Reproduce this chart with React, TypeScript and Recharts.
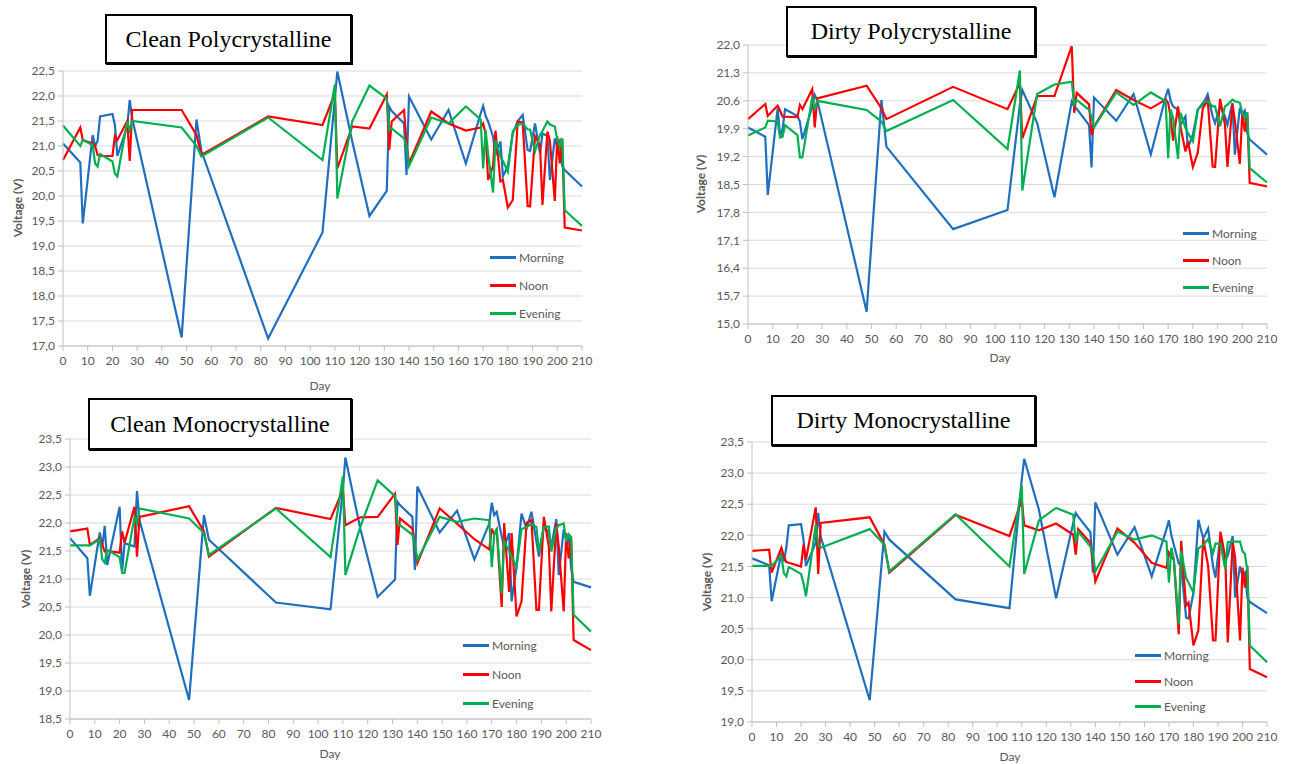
import React from 'react';
import { LineChart, Line, XAxis, YAxis, CartesianGrid } from 'recharts';

// measurement days shared by all series
const DAYS = [
  0, 7, 8, 12, 13, 14, 15, 20, 21, 22,
  26, 27, 28, 48, 54, 56, 83, 105, 110, 111,
  117, 124, 131, 132, 133, 138, 139, 140, 149, 156,
  163, 169, 170, 171, 172, 174, 175, 177, 178, 180,
  182, 184, 186, 188, 189, 191, 193, 194, 196, 197,
  199, 200, 201, 202, 203, 210,
];

const X_TICKS = [0, 10, 20, 30, 40, 50, 60, 70, 80, 90, 100, 110, 120, 130, 140, 150, 160, 170, 180, 190, 200, 210];

// Clean Polycrystalline
const cleanPolyMorning = [
  21.05, 20.67, 19.45, 21.22, 21.0, 21.1, 21.59, 21.64, 21.42, 20.8,
  21.4, 21.92, 21.55, 17.17, 21.53, 20.9, 17.15, 19.27, 21.95, 22.49,
  21.1, 19.6, 20.1, 21.79, 21.7, 21.45, 20.42, 21.99, 21.13, 21.72,
  20.65, 21.65, 21.8, 21.6, 21.49, 21.19, 20.82, 21.09, 20.39, 20.6,
  21.25, 21.5, 21.62, 20.92, 20.9, 21.45, 20.85, 21.25, 21.2, 20.32,
  21.15, 21.0, 21.1, 20.6, 20.52, 20.19,
];
const cleanPolyNoon = [
  20.72, 21.37, 21.12, 21.05, 21.0, 20.82, 20.8, 20.8, 21.2, 21.12,
  21.5, 20.7, 21.72, 21.72, 21.22, 20.82, 21.59, 21.42, 22.05, 20.55,
  21.39, 21.35, 22.03, 20.92, 21.49, 21.72, 21.05, 20.65, 21.69, 21.45,
  21.31, 21.37, 21.45, 21.25, 20.32, 20.6, 21.31, 20.29, 20.32, 19.77,
  19.92, 21.49, 21.47, 19.8, 19.79, 21.19, 21.02, 19.82, 21.29, 21.1,
  19.9, 21.19, 20.65, 21.15, 19.37, 19.31,
];
const cleanPolyEvening = [
  21.41, 21.0, 21.12, 21.02, 20.65, 20.59, 20.84, 20.69, 20.45, 20.39,
  21.49, 21.32, 21.5, 21.37, 21.0, 20.79, 21.57, 20.72, 22.23, 19.95,
  21.49, 22.21, 21.95, 21.32, 21.35, 21.15, 21.0, 20.6, 21.57, 21.45,
  21.79, 21.53, 20.55, 21.32, 20.85, 20.07, 21.12, 20.79, 20.7, 20.49,
  21.29, 21.42, 21.45, 21.33, 21.33, 20.89, 21.22, 21.3, 21.49, 21.43,
  21.39, 21.12, 20.99, 21.15, 19.72, 19.4,
];
const cleanPolyTicks = [17, 17.5, 18, 18.5, 19, 19.5, 20, 20.5, 21, 21.5, 22, 22.5];

// Dirty Polycrystalline
const dirtyPolyMorning = [
  19.93, 19.7, 18.24, 20.41, 19.7, 19.9, 20.39, 20.22, 20.08, 19.64,
  20.45, 20.75, 20.62, 15.31, 20.62, 19.45, 17.38, 17.86, 20.5, 20.87,
  20.04, 18.18, 20.58, 20.45, 20.4, 19.99, 18.93, 20.68, 20.1, 20.77,
  19.26, 20.7, 20.9, 20.6, 20.46, 20.38, 20.0, 20.21, 19.42, 19.75,
  20.38, 20.5, 20.76, 20.21, 20.04, 20.46, 20.21, 20.0, 20.55, 19.25,
  20.42, 20.25, 20.35, 19.8, 19.63, 19.25,
];
const dirtyPolyNoon = [
  20.14, 20.52, 20.22, 20.48, 20.35, 20.2, 20.2, 20.19, 20.5, 20.39,
  20.89, 19.93, 20.66, 20.98, 20.41, 20.14, 20.95, 20.39, 21.04, 19.66,
  20.72, 20.72, 21.97, 20.3, 20.8, 20.51, 19.74, 19.95, 20.87, 20.62,
  20.41, 20.63, 20.55, 20.2, 19.6, 20.46, 19.95, 19.33, 19.58, 18.94,
  19.3, 20.4, 20.63, 18.95, 18.94, 20.65, 20.0, 18.94, 20.52, 20.1,
  19.02, 20.3, 19.83, 20.3, 18.54, 18.45,
];
const dirtyPolyEvening = [
  19.73, 19.93, 20.1, 20.08, 19.68, 19.7, 19.99, 19.74, 19.18, 19.18,
  20.7, 20.37, 20.6, 20.37, 20.08, 19.84, 20.62, 19.39, 21.36, 18.35,
  20.77, 21.01, 21.08, 20.5, 20.62, 20.37, 20.2, 19.93, 20.81, 20.5,
  20.81, 20.59, 19.16, 20.38, 20.17, 19.14, 20.3, 19.92, 19.8, 19.58,
  20.38, 20.55, 20.59, 20.46, 20.46, 19.96, 20.46, 20.5, 20.63, 20.59,
  20.55, 20.3, 20.17, 20.31, 18.91, 18.55,
];
const dirtyPolyTicks = [15, 15.7, 16.4, 17.1, 17.8, 18.5, 19.2, 19.9, 20.6, 21.3, 22];

// Clean Monocrystalline
const cleanMonoMorning = [
  21.73, 21.37, 20.7, 21.83, 21.58, 21.95, 21.25, 22.29, 21.13, 21.64,
  21.58, 22.57, 22.05, 18.84, 22.14, 21.7, 20.58, 20.46, 22.6, 23.17,
  21.9, 20.68, 20.99, 22.38, 22.32, 22.11, 21.16, 22.65, 21.83, 22.22,
  21.35, 21.99, 22.36, 22.14, 22.2, 21.76, 21.58, 21.82, 20.6, 21.22,
  22.17, 21.9, 22.2, 21.67, 21.4, 21.96, 21.82, 21.58, 22.07, 21.07,
  21.88, 21.7, 21.75, 21.2, 20.95, 20.85,
];
const cleanMonoNoon = [
  21.85, 21.9, 21.61, 21.73, 21.61, 21.49, 21.5, 21.47, 21.85, 21.65,
  22.29, 21.4, 22.11, 22.3, 21.85, 21.4, 22.27, 22.07, 22.59, 21.96,
  22.1, 22.11, 22.52, 21.61, 22.08, 21.9, 21.6, 21.28, 22.26, 21.99,
  21.71, 21.53, 21.9, 21.79, 21.88, 20.5, 22.0, 20.77, 21.82, 20.33,
  20.6, 22.0, 22.05, 20.45, 20.45, 22.11, 21.58, 20.42, 22.0, 21.58,
  20.42, 21.82, 21.37, 21.73, 19.91, 19.73,
];
const cleanMonoEvening = [
  21.6, 21.6, 21.6, 21.71, 21.35, 21.29, 21.52, 21.39, 21.11, 21.11,
  22.11, 21.99, 22.26, 22.08, 21.82, 21.43, 22.26, 21.39, 22.83, 21.07,
  21.93, 22.76, 22.48, 21.99, 21.96, 21.79, 21.64, 21.34, 22.11, 22.02,
  22.08, 22.05, 21.21, 21.8, 21.9, 20.74, 21.67, 21.5, 21.4, 21.22,
  21.89, 21.93, 21.98, 21.93, 21.49, 21.93, 21.94, 21.49, 21.9, 21.96,
  21.99, 21.67, 21.8, 21.75, 20.36, 20.06,
];
const cleanMonoTicks = [18.5, 19, 19.5, 20, 20.5, 21, 21.5, 22, 22.5, 23, 23.5];

// Dirty Monocrystalline
const dirtyMonoMorning = [
  21.63, 21.52, 20.94, 21.72, 21.58, 21.8, 22.16, 22.18, 21.93, 21.51,
  21.88, 22.36, 21.98, 19.35, 22.06, 21.93, 20.97, 20.83, 22.9, 23.23,
  22.41, 20.99, 22.2, 22.36, 22.3, 22.05, 21.4, 22.53, 21.69, 22.13,
  21.34, 22.1, 22.24, 22.0, 21.85, 21.55, 21.51, 20.68, 20.66, 21.08,
  22.25, 21.95, 22.11, 21.5, 21.32, 21.99, 21.6, 21.67, 21.99, 21.0,
  21.5, 21.35, 21.4, 21.0, 20.93, 20.75,
];
const dirtyMonoNoon = [
  21.75, 21.77, 21.4, 21.8, 21.66, 21.57, 21.56, 21.5, 21.85, 21.61,
  22.45, 21.38, 22.2, 22.29, 21.85, 21.4, 22.33, 21.99, 22.57, 22.16,
  22.08, 22.19, 22.01, 21.69, 22.1, 21.88, 21.6, 21.26, 22.11, 21.88,
  21.56, 21.48, 21.72, 21.64, 21.62, 20.41, 21.91, 20.87, 20.92, 20.23,
  20.47, 21.94, 21.51, 20.31, 20.31, 22.06, 21.64, 20.28, 21.89, 21.64,
  20.31, 21.48, 21.16, 21.51, 19.85, 19.72,
];
const dirtyMonoEvening = [
  21.51, 21.51, 21.51, 21.67, 21.39, 21.34, 21.49, 21.38, 21.23, 21.02,
  22.17, 21.85, 21.8, 22.1, 21.85, 21.42, 22.34, 21.5, 22.8, 21.38,
  22.24, 22.44, 22.33, 21.88, 22.06, 21.82, 21.7, 21.42, 22.06, 21.93,
  22.0, 21.9, 21.24, 21.8, 21.62, 20.57, 21.75, 21.32, 21.24, 21.08,
  21.79, 21.84, 21.94, 21.71, 21.87, 21.86, 21.46, 21.89, 21.9, 21.9,
  21.9, 21.75, 21.7, 21.43, 20.23, 19.96,
];
const dirtyMonoTicks = [19, 19.5, 20, 20.5, 21, 21.5, 22, 22.5, 23, 23.5];

const SERIES = [
  { key: 'morning', name: 'Morning', color: '#1f6fc1' },
  { key: 'noon', name: 'Noon', color: '#ff0000' },
  { key: 'evening', name: 'Evening', color: '#00b050' },
];

const buildRows = (m: number[], n: number[], e: number[]) =>
  DAYS.map((day, i) => ({ day, morning: m[i], noon: n[i], evening: e[i] }));

const fmt = (v: number) => v.toFixed(1).replace('.', ',');

const FONT = 'Lato, "Open Sans", sans-serif';
const TXT = '#595959';

type Box = { x: number; y: number; w: number; h: number };

type PanelProps = {
  title: string;
  rows: any[];
  yTicks: number[];
  plot: Box;
  titleBox: Box;
  yLabel: [number, number];
  dayLabel: [number, number];
  legend: { x: number; rows: number[] };
};

const Panel = ({ title, rows, yTicks, plot, titleBox, yLabel, dayLabel, legend }: PanelProps) => {
  const padL = 60, padT = 12, padR = 15, padB = 30;
  return (
    <>
      <div style={{ position: 'absolute', left: plot.x - padL, top: plot.y - padT }}>
        <LineChart
          width={plot.w + padL + padR}
          height={plot.h + padT + padB}
          data={rows}
          margin={{ top: padT, right: padR, left: 0, bottom: 0 }}
        >
          <CartesianGrid vertical={false} stroke="#d9d9d9" />
          <XAxis
            dataKey="day"
            type="number"
            domain={[0, 210]}
            ticks={X_TICKS}
            interval={0}
            height={padB}
            tickSize={5}
            tickMargin={5}
            stroke="#bfbfbf"
            tick={{ fill: TXT, fontSize: 12, fontFamily: FONT }}
          />
          <YAxis
            type="number"
            domain={[yTicks[0], yTicks[yTicks.length - 1]]}
            ticks={yTicks}
            interval={0}
            width={padL}
            tickFormatter={fmt}
            tickSize={5}
            tickMargin={3}
            stroke="#bfbfbf"
            tick={{ fill: TXT, fontSize: 12, fontFamily: FONT }}
          />
          {SERIES.map((s) => (
            <Line
              key={s.key}
              type="linear"
              dataKey={s.key}
              name={s.name}
              stroke={s.color}
              strokeWidth={2.2}
              dot={false}
              isAnimationActive={false}
            />
          ))}
        </LineChart>
      </div>

      <div
        style={{
          position: 'absolute',
          left: titleBox.x,
          top: titleBox.y,
          width: titleBox.w,
          height: titleBox.h,
          boxSizing: 'border-box',
          border: '2px solid #000',
          boxShadow: '1px 1px 0 #000',
          background: '#fff',
          display: 'flex',
          alignItems: 'center',
          justifyContent: 'center',
          fontFamily: '"Liberation Serif", "Times New Roman", serif',
          fontSize: 24,
          color: '#000',
        }}
      >
        {title}
      </div>

      <div
        style={{
          position: 'absolute',
          left: yLabel[0],
          top: yLabel[1],
          transform: 'translate(-50%, -50%) rotate(-90deg)',
          whiteSpace: 'nowrap',
          fontFamily: FONT,
          fontWeight: 700,
          fontSize: 12,
          color: TXT,
        }}
      >
        Voltage (V)
      </div>

      <div
        style={{
          position: 'absolute',
          left: dayLabel[0],
          top: dayLabel[1],
          transform: 'translate(-50%, -50%)',
          fontFamily: FONT,
          fontSize: 12,
          color: TXT,
        }}
      >
        Day
      </div>

      {SERIES.map((s, i) => (
        <div
          key={s.key}
          style={{
            position: 'absolute',
            left: legend.x,
            top: legend.rows[i] - 8,
            height: 16,
            display: 'flex',
            alignItems: 'center',
            fontFamily: FONT,
            fontSize: 12,
            color: TXT,
            whiteSpace: 'nowrap',
          }}
        >
          <span style={{ display: 'inline-block', width: 26, height: 3, background: s.color, marginRight: 3 }} />
          {s.name}
        </div>
      ))}
    </>
  );
};

export default function App() {
  return (
    <div style={{ position: 'absolute', left: 0, top: 0, width: 1293, height: 764, background: '#fff', overflow: 'hidden' }}>
      <Panel
        title="Clean Polycrystalline"
        rows={buildRows(cleanPolyMorning, cleanPolyNoon, cleanPolyEvening)}
        yTicks={cleanPolyTicks}
        plot={{ x: 63, y: 71, w: 519, h: 275 }}
        titleBox={{ x: 105, y: 14, w: 247, h: 50 }}
        yLabel={[17, 208]}
        dayLabel={[320, 385]}
        legend={{ x: 490, rows: [257, 285, 313] }}
      />
      <Panel
        title="Dirty Polycrystalline"
        rows={buildRows(dirtyPolyMorning, dirtyPolyNoon, dirtyPolyEvening)}
        yTicks={dirtyPolyTicks}
        plot={{ x: 748, y: 45, w: 519, h: 279 }}
        titleBox={{ x: 786, y: 6, w: 250, h: 51 }}
        yLabel={[700, 184]}
        dayLabel={[1000, 357]}
        legend={{ x: 1183, rows: [233, 260, 287] }}
      />
      <Panel
        title="Clean Monocrystalline"
        rows={buildRows(cleanMonoMorning, cleanMonoNoon, cleanMonoEvening)}
        yTicks={cleanMonoTicks}
        plot={{ x: 70, y: 439, w: 521, h: 280 }}
        titleBox={{ x: 88, y: 398, w: 264, h: 52 }}
        yLabel={[25, 579]}
        dayLabel={[330, 753]}
        legend={{ x: 463, rows: [645, 674, 703] }}
      />
      <Panel
        title="Dirty Monocrystalline"
        rows={buildRows(dirtyMonoMorning, dirtyMonoNoon, dirtyMonoEvening)}
        yTicks={dirtyMonoTicks}
        plot={{ x: 752, y: 442, w: 515, h: 280 }}
        titleBox={{ x: 771, y: 395, w: 265, h: 51 }}
        yLabel={[706, 582]}
        dayLabel={[1010, 756]}
        legend={{ x: 1135, rows: [655, 681, 706] }}
      />
    </div>
  );
}
